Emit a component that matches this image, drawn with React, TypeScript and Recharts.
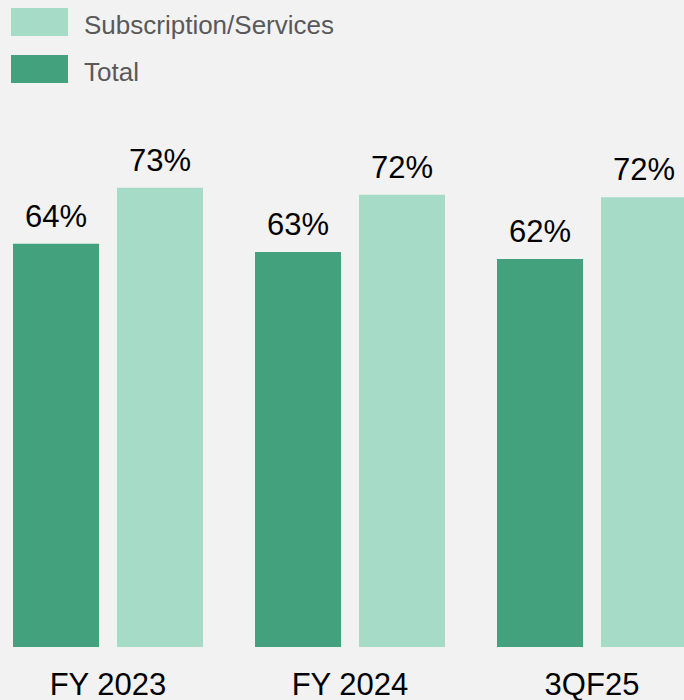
import { BarChart, Bar, XAxis, YAxis, LabelList, Legend } from "recharts";

const categories = ["FY 2023", "FY 2024", "3QF25"];
const totalValues = [64.1, 62.8, 61.7];
const subscriptionValues = [73.0, 71.9, 71.5];

const DARK = "#43a17e";
const LIGHT = "#a6dbc8";
const FONT = "'Liberation Sans', Arial, sans-serif";

const data = categories.map((name, i) => ({
  name,
  total: totalValues[i],
  subscription: subscriptionValues[i],
}));

const legendItems = [
  { label: "Subscription/Services", color: LIGHT },
  { label: "Total", color: DARK },
];

const LegendBox = () => (
  <div style={{ fontFamily: FONT }}>
    {legendItems.map((it, i) => (
      <div key={it.label} style={{ position: "absolute", left: 0, top: i * 47, height: 28, width: 400 }}>
        <div style={{ position: "absolute", left: 0, top: 0, width: 57, height: 28, background: it.color }} />
        <span style={{ position: "absolute", left: 73, top: 2, fontSize: 26, lineHeight: "30px", color: "#595959", whiteSpace: "nowrap" }}>
          {it.label}
        </span>
      </div>
    ))}
  </div>
);

const Tick = (props: any) => {
  const { x, y, payload } = props;
  return (
    <text x={x} y={y} dy={40} textAnchor="middle" fontSize={31} fill="#000" fontFamily={FONT}>
      {payload.value}
    </text>
  );
};

export default function App() {
  return (
    <div style={{ position: "fixed", left: 0, top: 0, width: 684, height: 700, background: "#f2f2f2", overflow: "hidden" }}>
      <div style={{ position: "absolute", left: -13, top: 0 }}>
        <BarChart width={726} height={700} data={data} margin={{ top: 18, right: 0, bottom: 0, left: 0 }} barGap={18} barCategoryGap={26}>
          <XAxis dataKey="name" axisLine={false} tickLine={false} height={53} tick={<Tick />} />
          <YAxis hide domain={[0, 100]} />
          <Legend
            layout="vertical"
            align="center"
            verticalAlign="middle"
            content={<LegendBox />}
            wrapperStyle={{ position: "absolute", left: 24, top: 8, width: 400, height: 80 }}
          />
          <Bar dataKey="total" fill={DARK} barSize={86} isAnimationActive={false}>
            <LabelList dataKey="total" position="top" offset={17} formatter={(v: any) => `${Math.round(v)}%`} style={{ fontSize: 31, fill: "#000", fontFamily: FONT }} />
          </Bar>
          <Bar dataKey="subscription" fill={LIGHT} barSize={86} isAnimationActive={false}>
            <LabelList dataKey="subscription" position="top" offset={17} formatter={(v: any) => `${Math.round(v)}%`} style={{ fontSize: 31, fill: "#000", fontFamily: FONT }} />
          </Bar>
        </BarChart>
      </div>
    </div>
  );
}
